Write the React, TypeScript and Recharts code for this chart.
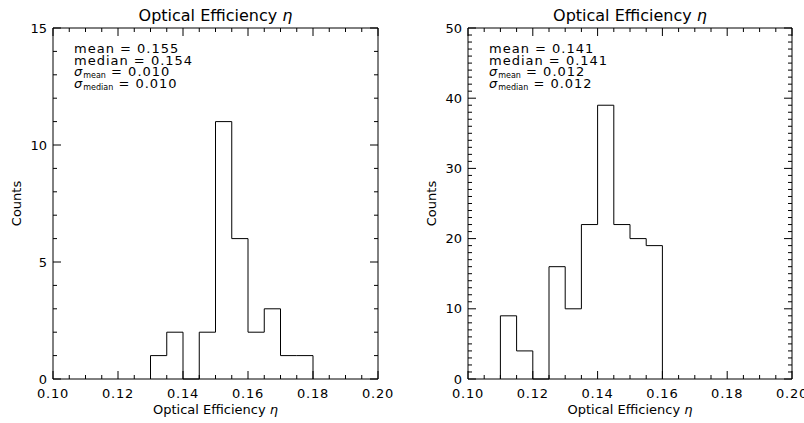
import React from "react";
import { LineChart, Line, XAxis, YAxis } from "recharts";

// histogram bins (left edge of each bin) and counts
const BIN_WIDTH = 0.005;

const leftBinStarts = [0.13, 0.135, 0.14, 0.145, 0.15, 0.155, 0.16, 0.165, 0.17, 0.175];
const leftCounts = [1, 2, 0, 2, 11, 6, 2, 3, 1, 1];

const rightBinStarts = [0.11, 0.115, 0.12, 0.125, 0.13, 0.135, 0.14, 0.145, 0.15, 0.155];
const rightCounts = [9, 4, 0, 16, 10, 22, 39, 22, 20, 19];

const xMajorTicks = [0.1, 0.12, 0.14, 0.16, 0.18, 0.2];
const X_MINOR_STEP = 0.005;
const leftYMajorTicks = [0, 5, 10, 15];
const rightYMajorTicks = [0, 10, 20, 30, 40, 50];
const Y_MINOR_STEP = 1;

const statLabels = ["mean", "median", "mean", "median"];
const leftStats = ["0.155", "0.154", "0.010", "0.010"];
const rightStats = ["0.141", "0.141", "0.012", "0.012"];

const TITLE = "Optical Efficiency";
const X_LABEL = "Optical Efficiency";
const Y_LABEL = "Counts";

const FONT = "'DejaVu Sans', sans-serif";

function range(min: number, max: number, step: number) {
  const n = Math.round((max - min) / step);
  return Array.from({ length: n + 1 }, (_, i) => +(min + i * step).toFixed(6));
}

const isMajor = (v: number, majors: number[]) => majors.some((m) => Math.abs(m - v) < 1e-9);

// outline of the histogram as step points (stepAfter)
function stepData(starts: number[], counts: number[]) {
  const last = starts.length - 1;
  const end = +(starts[last] + BIN_WIDTH).toFixed(6);
  return [
    { x: starts[0], y: 0 },
    ...starts.map((s, i) => ({ x: s, y: counts[i] })),
    { x: end, y: counts[last] },
    { x: end, y: 0 },
  ];
}

// inward IDL-style ticks
function XTick(props: any) {
  const { x, y, payload, majors, side } = props;
  const major = isMajor(payload.value, majors);
  const len = major ? 8 : 4;
  const dir = side === "bottom" ? -1 : 1;
  return (
    <g>
      <line x1={x} x2={x} y1={y} y2={y + dir * len} stroke="#000" strokeWidth={1} />
      {major && side === "bottom" && (
        <text
          x={x}
          y={y + 19}
          textAnchor="middle"
          fontSize={13}
          letterSpacing={0.8}
          fontFamily={FONT}
          fill="#000"
        >
          {payload.value.toFixed(2)}
        </text>
      )}
    </g>
  );
}

function YTick(props: any) {
  const { x, y, payload, majors, side } = props;
  const major = isMajor(payload.value, majors);
  const len = major ? 8 : 4;
  const dir = side === "left" ? 1 : -1;
  return (
    <g>
      <line x1={x} x2={x + dir * len} y1={y} y2={y} stroke="#000" strokeWidth={1} />
      {major && side === "left" && (
        <text x={x - 6} y={y} dy="0.35em" textAnchor="end" fontSize={13} fontFamily={FONT} fill="#000">
          {payload.value}
        </text>
      )}
    </g>
  );
}

type Rect = { top: number; bottom: number; left: number; right: number };

function Panel({
  left,
  width,
  height,
  plot,
  starts,
  counts,
  yMax,
  yMajors,
  stats,
}: {
  left: number;
  width: number;
  height: number;
  plot: Rect;
  starts: number[];
  counts: number[];
  yMax: number;
  yMajors: number[];
  stats: string[];
}) {
  const data = stepData(starts, counts);
  const xTicks = range(0.1, 0.2, X_MINOR_STEP);
  const yTicks = range(0, yMax, Y_MINOR_STEP);
  // axes are 1px thick, so the chart margin is one less than the plot inset
  const margin = { top: plot.top - 1, bottom: plot.bottom - 1, left: plot.left - 1, right: plot.right - 1 };
  const cx = (plot.left + width - plot.right) / 2;
  const cy = (plot.top + height - plot.bottom) / 2;
  const ax = plot.left + 21;
  const ly = plot.left - 37;
  const baselines = [53, 65, 76, 88];

  return (
    <div style={{ position: "absolute", left, top: 0, width, height }}>
      <LineChart width={width} height={height} data={data} margin={margin}>
        <XAxis
          xAxisId="b"
          dataKey="x"
          type="number"
          domain={[0.1, 0.2]}
          ticks={xTicks}
          interval={0}
          height={1}
          tickSize={0}
          tickMargin={0}
          tickLine={false}
          axisLine={{ stroke: "#000" }}
          tick={(p: any) => <XTick {...p} majors={xMajorTicks} side="bottom" />}
        />
        <XAxis
          xAxisId="t"
          orientation="top"
          dataKey="x"
          type="number"
          domain={[0.1, 0.2]}
          ticks={xTicks}
          interval={0}
          height={1}
          tickSize={0}
          tickMargin={0}
          tickLine={false}
          axisLine={{ stroke: "#000" }}
          tick={(p: any) => <XTick {...p} majors={xMajorTicks} side="top" />}
        />
        <YAxis
          yAxisId="l"
          type="number"
          domain={[0, yMax]}
          ticks={yTicks}
          interval={0}
          width={1}
          tickSize={0}
          tickMargin={0}
          tickLine={false}
          axisLine={{ stroke: "#000" }}
          tick={(p: any) => <YTick {...p} majors={yMajors} side="left" />}
        />
        <YAxis
          yAxisId="r"
          orientation="right"
          type="number"
          domain={[0, yMax]}
          ticks={yTicks}
          interval={0}
          width={1}
          tickSize={0}
          tickMargin={0}
          tickLine={false}
          axisLine={{ stroke: "#000" }}
          tick={(p: any) => <YTick {...p} majors={yMajors} side="right" />}
        />
        <Line
          xAxisId="b"
          yAxisId="l"
          type="stepAfter"
          dataKey="y"
          stroke="#000"
          strokeWidth={1}
          dot={false}
          activeDot={false}
          isAnimationActive={false}
        />
        <Line
          xAxisId="t"
          yAxisId="r"
          type="stepAfter"
          dataKey="y"
          stroke="none"
          dot={false}
          activeDot={false}
          isAnimationActive={false}
        />
      </LineChart>
      <svg
        width={width}
        height={height}
        style={{ position: "absolute", left: 0, top: 0, pointerEvents: "none" }}
        fontFamily={FONT}
        fill="#000"
      >
        <text x={cx} y={21} textAnchor="middle" fontSize={16}>
          {TITLE} <tspan fontStyle="italic">η</tspan>
        </text>
        <text x={cx} y={414} textAnchor="middle" fontSize={13}>
          {X_LABEL} <tspan fontStyle="italic">η</tspan>
        </text>
        <text
          x={ly}
          y={cy}
          textAnchor="middle"
          dominantBaseline="central"
          fontSize={13}
          transform={`rotate(-90 ${ly} ${cy})`}
        >
          {Y_LABEL}
        </text>
        <text x={ax} y={baselines[0]} fontSize={13} letterSpacing={1}>
          {statLabels[0]} = {stats[0]}
        </text>
        <text x={ax} y={baselines[1]} fontSize={13} letterSpacing={1}>
          {statLabels[1]} = {stats[1]}
        </text>
        {[2, 3].map((i) => (
          <text key={i} x={ax} y={baselines[i]} fontSize={13} letterSpacing={1}>
            <tspan fontStyle="italic">σ</tspan>
            <tspan fontSize={8} dy={2} letterSpacing={0}>
              {statLabels[i]}
            </tspan>
            <tspan dy={-2}> = {stats[i]}</tspan>
          </text>
        ))}
      </svg>
    </div>
  );
}

export default function App() {
  return (
    <div style={{ position: "absolute", left: 0, top: 0, width: 804, height: 423, background: "#fff" }}>
      <Panel
        left={0}
        width={400}
        height={423}
        plot={{ top: 28, bottom: 44, left: 53, right: 22 }}
        starts={leftBinStarts}
        counts={leftCounts}
        yMax={15}
        yMajors={leftYMajorTicks}
        stats={leftStats}
      />
      <Panel
        left={400}
        width={404}
        height={423}
        plot={{ top: 28, bottom: 44, left: 68, right: 12 }}
        starts={rightBinStarts}
        counts={rightCounts}
        yMax={50}
        yMajors={rightYMajorTicks}
        stats={rightStats}
      />
    </div>
  );
}
